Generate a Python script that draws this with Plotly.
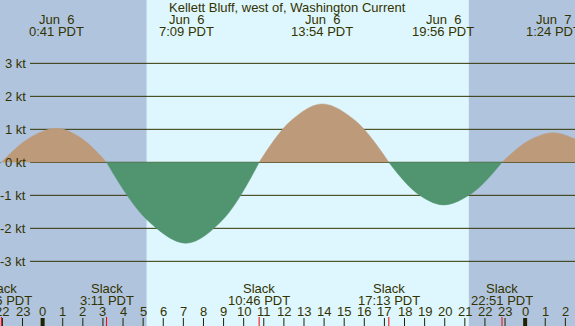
import plotly.graph_objects as go

# ---------------- data ----------------
curve_hours = [-2.12, -2.05, -0.7, 0.68, 1.93, 3.18, 5.17, 7.15, 8.96, 10.77,
               12.33, 13.9, 15.56, 17.22, 18.58, 19.93, 21.39, 22.85, 24.12, 25.4, 26.5]
curve_kt = [-0.03, 0.0, 0.72, 1.03, 0.73, 0.0, -1.73, -2.45, -1.74, 0.0,
            1.25, 1.77, 1.26, 0.0, -0.92, -1.29, -0.92, 0.0, 0.64, 0.90, 0.70]

max_hours = [0.68, 7.15, 13.9, 19.93, 25.4]
max_dates = ["Jun  6", "Jun  6", "Jun  6", "Jun  6", "Jun  7"]
max_times = ["0:41 PDT", "7:09 PDT", "13:54 PDT", "19:56 PDT", "1:24 PDT"]

slack_hours = [-2.05, 3.18, 10.77, 17.22, 22.85]
slack_times = ["21:56 PDT", "3:11 PDT", "10:46 PDT", "17:13 PDT", "22:51 PDT"]

hour_ticks = list(range(-2, 27))
hour_tick_labels = [str(h % 24) for h in hour_ticks]
midnight_hours = [0, 24]

kt_levels = [-3, -2, -1, 0, 1, 2, 3]
kt_labels = [f"{k} kt" for k in kt_levels]

sunrise_hour = 5.17
sunset_hour = 21.2
x_range = [-2.12, 26.48]
y_range = [-4.96, 4.92]
title = "Kellett Bluff, west of, Washington Current"

# ---------------- styles ----------------
W, H = 575, 326
NIGHT = "#b0c4de"
DAY = "#def6fd"
FLOOD = "#bd9a7a"
EBB = "#509570"
INK = "#333300"
FONT = "Liberation Sans, Arial, sans-serif"


def py(px):
    return 1 - px / H


fig = go.Figure()

# split curve into lobes at slack (zero) points
segments = []
cur_h, cur_v = [], []
for h, v in zip(curve_hours, curve_kt):
    cur_h.append(h)
    cur_v.append(v)
    if v == 0 and len(cur_h) > 1:
        segments.append((cur_h, cur_v))
        cur_h, cur_v = [h], [v]
if len(cur_h) > 1:
    segments.append((cur_h, cur_v))

for hs, vs in segments:
    color = FLOOD if sum(vs) >= 0 else EBB
    fig.add_trace(go.Scatter(
        x=hs, y=vs, mode="lines", fill="tozeroy", fillcolor=color,
        line=dict(color=color, width=0.5, shape="spline", smoothing=1.0),
        hoverinfo="skip", showlegend=False))

shapes = []
# day/night background
shapes.append(dict(type="rect", xref="x", yref="paper", x0=x_range[0], x1=x_range[1],
                   y0=0, y1=1, fillcolor=DAY, line=dict(width=0), layer="below"))
shapes.append(dict(type="rect", xref="x", yref="paper", x0=x_range[0], x1=sunrise_hour,
                   y0=0, y1=1, fillcolor=NIGHT, line=dict(width=0), layer="below"))
shapes.append(dict(type="rect", xref="x", yref="paper", x0=sunset_hour, x1=x_range[1],
                   y0=0, y1=1, fillcolor=NIGHT, line=dict(width=0), layer="below"))
# horizontal grid lines
for k in kt_levels:
    shapes.append(dict(type="line", xref="paper", yref="y", x0=30 / W, x1=1,
                       y0=k, y1=k, line=dict(color=INK, width=1), layer="below"))
# hour ticks
for h in hour_ticks:
    w = 4 if h in midnight_hours else 1
    shapes.append(dict(type="line", xref="x", yref="paper", x0=h, x1=h,
                       y0=0, y1=8 / H, line=dict(color="#222200", width=w)))
# slack ticks
for h in slack_hours:
    shapes.append(dict(type="line", xref="x", yref="paper", x0=h, x1=h,
                       y0=0, y1=9 / H, line=dict(color="#ff0000", width=1)))

font = dict(size=13, color=INK, family=FONT)
annotations = []


def label(text, x, ypx, xref="x", xanchor="center"):
    annotations.append(dict(text=text, xref=xref, yref="paper", x=x, y=py(ypx),
                            showarrow=False, font=font, xanchor=xanchor,
                            yanchor="middle"))


label(title, 0.5, 7.5, xref="paper")
for h, d, t in zip(max_hours, max_dates, max_times):
    label(d, h, 19.5)
    label(t, h, 32)
for h, t in zip(slack_hours, slack_times):
    label("Slack", h, 288)
    label(t, h, 300.5)
for h, lab in zip(hour_ticks, hour_tick_labels):
    label(lab, h, 311)
for k, lab in zip(kt_levels, kt_labels):
    annotations.append(dict(text=lab, xref="paper", yref="y", x=28 / W, y=k,
                            showarrow=False, font=font,
                            xanchor="right", yanchor="middle"))

fig.update_layout(
    width=W, height=H,
    margin=dict(l=0, r=0, t=0, b=0),
    paper_bgcolor=DAY, plot_bgcolor=DAY,
    xaxis=dict(range=x_range, visible=False, fixedrange=True),
    yaxis=dict(range=y_range, visible=False, fixedrange=True),
    shapes=shapes, annotations=annotations,
    showlegend=False,
)

fig.write_html("out.html", config={"displayModeBar": False},
               post_script="document.body.style.margin='0';document.body.style.overflow='hidden';")
